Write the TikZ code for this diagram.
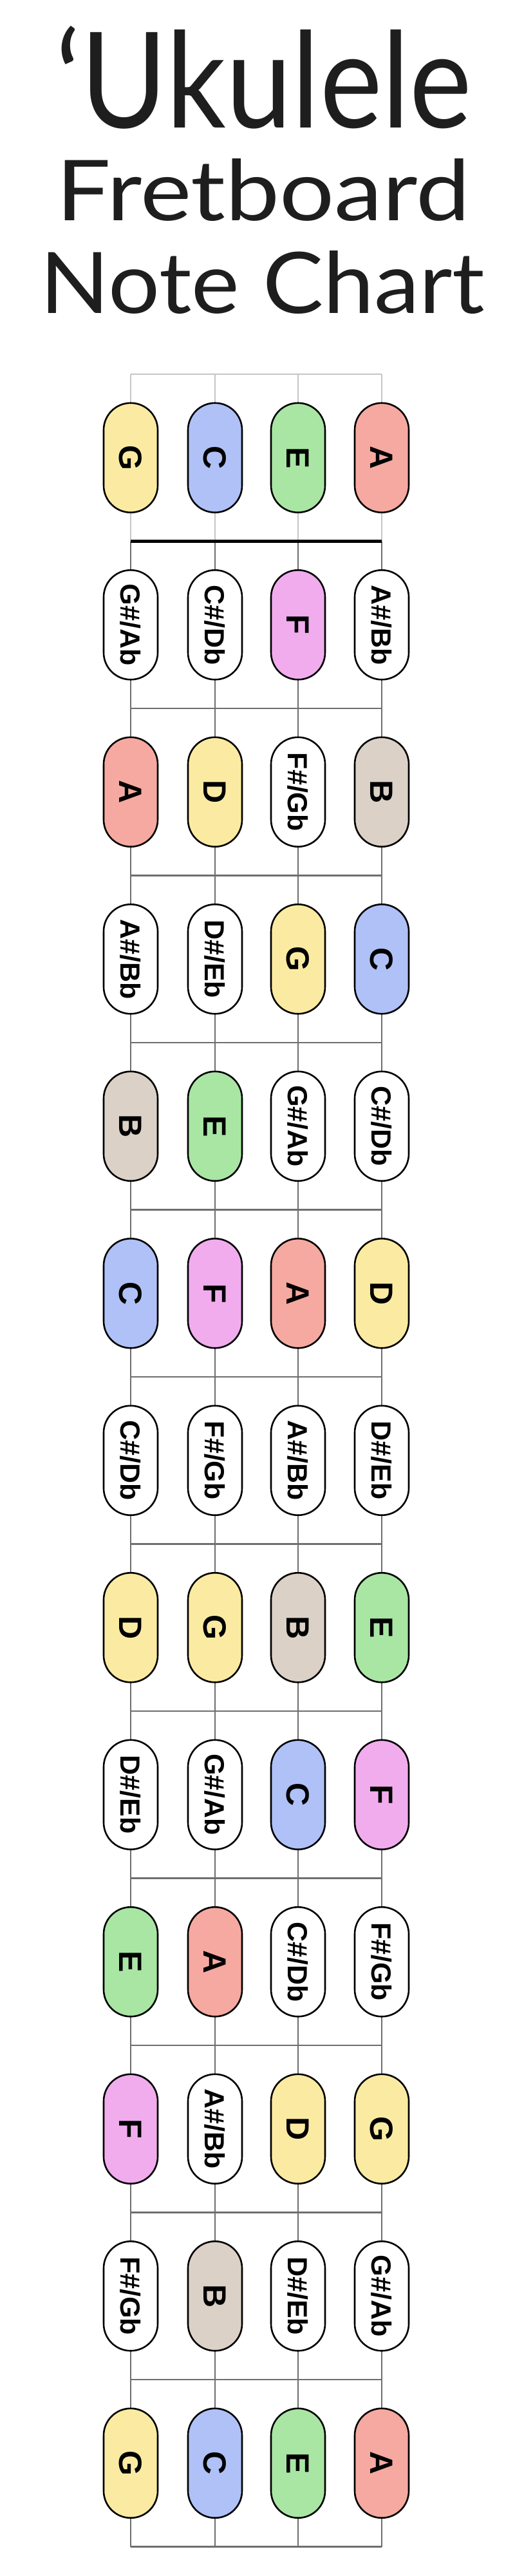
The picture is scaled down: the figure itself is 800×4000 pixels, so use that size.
\documentclass[tikz,border=0pt]{standalone}
\usepackage{fontspec}
\setmainfont{Liberation Sans}
\newfontfamily\titlefont{Lato}
\usetikzlibrary{shapes.misc}
\definecolor{colG}{HTML}{FBEBA2}
\definecolor{colC}{HTML}{AFC1F6}
\definecolor{colE}{HTML}{A9E6A4}
\definecolor{colA}{HTML}{F6A9A0}
\definecolor{colF}{HTML}{F1ACEE}
\definecolor{colB}{HTML}{DBD1C7}
\definecolor{strgrey}{HTML}{6E6E6E}
\definecolor{lightgrey}{HTML}{C6C6C6}
\definecolor{inkblack}{HTML}{1E1E1E}
\newcommand\natfont{\fontsize{50}{50}\selectfont\bfseries}
\newcommand\shpfont{\fontsize{43}{43}\selectfont\bfseries}
\newcommand\pillat[5]{\node[#4] (#1) at (#2,#3) {#5};}
\begin{document}
\begin{tikzpicture}[x=1pt,y=-1pt,
  pillbase/.style={rounded rectangle, rounded rectangle arc length=180, draw=black, line width=2.6pt,
    minimum width=170pt, minimum height=84pt, inner sep=0pt, rotate=-90},
  nG/.style={pillbase, fill=colG, font=\natfont},
  nD/.style={pillbase, fill=colG, font=\natfont},
  nC/.style={pillbase, fill=colC, font=\natfont},
  nE/.style={pillbase, fill=colE, font=\natfont},
  nA/.style={pillbase, fill=colA, font=\natfont},
  nF/.style={pillbase, fill=colF, font=\natfont},
  nB/.style={pillbase, fill=colB, font=\natfont},
  sh/.style={pillbase, fill=white, font=\shpfont},
  openstring/.style={draw=lightgrey, line width=1.8pt},
  fretstring/.style={draw=strgrey, line width=2.5pt},
  fretline/.style={draw=strgrey, line width=2.5pt},
  topline/.style={draw=lightgrey, line width=2pt},
  nutline/.style={draw=black, line width=4.5pt},
  titletext/.style={anchor=base, inner sep=0pt, text=inkblack}
]
\useasboundingbox (0,0) rectangle (800,4000);
\fill[white] (0,0) rectangle (800,4000);

% title
\node[titletext] (t1) at (410,198) {\resizebox{646pt}{158pt}{\titlefont ‘Ukulele}};
\node[titletext] (t2) at (409,342) {\resizebox{642pt}{96pt}{\titlefont Fretboard}};
\node[titletext] (t3) at (408,486) {\resizebox{690pt}{97pt}{\titlefont Note Chart}};

% strings
\foreach \s/\x in {1/203,2/334,3/463,4/593}{
  \coordinate (s\s top) at (\x,581);
  \coordinate (s\s nut) at (\x,840.5);
  \coordinate (s\s bot) at (\x,3954.5);
}
\foreach \s in {1,2,3,4}{
  \draw[openstring] (s\s top) -- (s\s nut);
  \draw[fretstring] (s\s nut) -- (s\s bot);
}
% top line
\draw[topline] (s1top) -- (s4top);
% frets
\foreach \m in {2,...,13}{
  \coordinate (f\m l) at (203,{581+259.5*\m});
  \coordinate (f\m r) at (593,{581+259.5*\m});
  \draw[fretline] (f\m l) -- (f\m r);
}
% nut
\draw[nutline] (s1nut) -- (s4nut);

% notes (row y = 710.75 + 259.5 k)
\pillat{r0a}{203}{710.75}{nG}{G}
\pillat{r0b}{334}{710.75}{nC}{C}
\pillat{r0c}{463}{710.75}{nE}{E}
\pillat{r0d}{593}{710.75}{nA}{A}

\pillat{r1a}{203}{970.25}{sh}{G\#/Ab}
\pillat{r1b}{334}{970.25}{sh}{C\#/Db}
\pillat{r1c}{463}{970.25}{nF}{F}
\pillat{r1d}{593}{970.25}{sh}{A\#/Bb}

\pillat{r2a}{203}{1229.75}{nA}{A}
\pillat{r2b}{334}{1229.75}{nD}{D}
\pillat{r2c}{463}{1229.75}{sh}{F\#/Gb}
\pillat{r2d}{593}{1229.75}{nB}{B}

\pillat{r3a}{203}{1489.25}{sh}{A\#/Bb}
\pillat{r3b}{334}{1489.25}{sh}{D\#/Eb}
\pillat{r3c}{463}{1489.25}{nG}{G}
\pillat{r3d}{593}{1489.25}{nC}{C}

\pillat{r4a}{203}{1748.75}{nB}{B}
\pillat{r4b}{334}{1748.75}{nE}{E}
\pillat{r4c}{463}{1748.75}{sh}{G\#/Ab}
\pillat{r4d}{593}{1748.75}{sh}{C\#/Db}

\pillat{r5a}{203}{2008.25}{nC}{C}
\pillat{r5b}{334}{2008.25}{nF}{F}
\pillat{r5c}{463}{2008.25}{nA}{A}
\pillat{r5d}{593}{2008.25}{nD}{D}

\pillat{r6a}{203}{2267.75}{sh}{C\#/Db}
\pillat{r6b}{334}{2267.75}{sh}{F\#/Gb}
\pillat{r6c}{463}{2267.75}{sh}{A\#/Bb}
\pillat{r6d}{593}{2267.75}{sh}{D\#/Eb}

\pillat{r7a}{203}{2527.25}{nD}{D}
\pillat{r7b}{334}{2527.25}{nG}{G}
\pillat{r7c}{463}{2527.25}{nB}{B}
\pillat{r7d}{593}{2527.25}{nE}{E}

\pillat{r8a}{203}{2786.75}{sh}{D\#/Eb}
\pillat{r8b}{334}{2786.75}{sh}{G\#/Ab}
\pillat{r8c}{463}{2786.75}{nC}{C}
\pillat{r8d}{593}{2786.75}{nF}{F}

\pillat{r9a}{203}{3046.25}{nE}{E}
\pillat{r9b}{334}{3046.25}{nA}{A}
\pillat{r9c}{463}{3046.25}{sh}{C\#/Db}
\pillat{r9d}{593}{3046.25}{sh}{F\#/Gb}

\pillat{r10a}{203}{3305.75}{nF}{F}
\pillat{r10b}{334}{3305.75}{sh}{A\#/Bb}
\pillat{r10c}{463}{3305.75}{nD}{D}
\pillat{r10d}{593}{3305.75}{nG}{G}

\pillat{r11a}{203}{3565.25}{sh}{F\#/Gb}
\pillat{r11b}{334}{3565.25}{nB}{B}
\pillat{r11c}{463}{3565.25}{sh}{D\#/Eb}
\pillat{r11d}{593}{3565.25}{sh}{G\#/Ab}

\pillat{r12a}{203}{3824.75}{nG}{G}
\pillat{r12b}{334}{3824.75}{nC}{C}
\pillat{r12c}{463}{3824.75}{nE}{E}
\pillat{r12d}{593}{3824.75}{nA}{A}
\end{tikzpicture}
\end{document}
